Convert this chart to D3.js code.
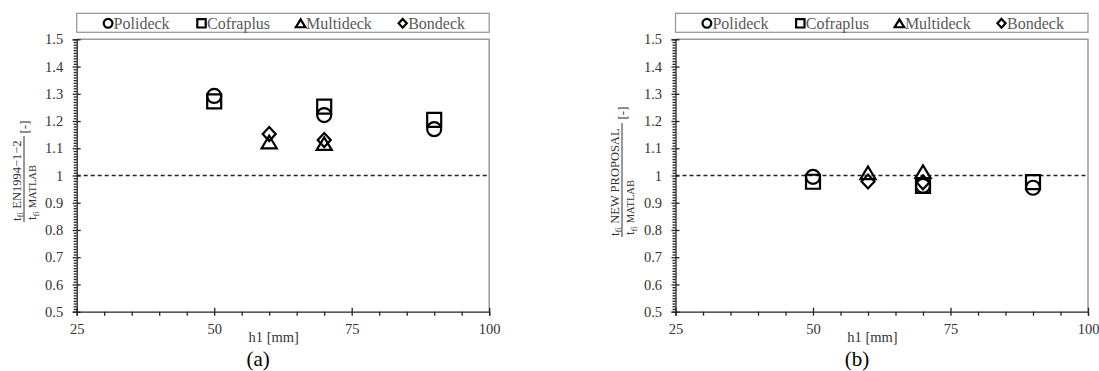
<!DOCTYPE html>
<meta charset="utf-8">
<style>

body {
  margin: 0;
  background: #fff;
}

.tick text {
  font: 14.5px "Liberation Serif", "Times New Roman", serif;
  fill: #333;
}

.legend text {
  font: 16px "Liberation Serif", "Times New Roman", serif;
  fill: #595959;
}

.ytitle {
  font-family: "Liberation Serif", "Times New Roman", serif;
  fill: #333;
}

</style>
<svg width="1099" height="371"></svg>
<script src="https://d3js.org/d3.v7.min.js"></script>
<script>

// series and values
var series = ["Polideck", "Cofraplus", "Multideck", "Bondeck"];
var h1Polideck = [50, 70, 90];
var h1Cofraplus = [50, 70, 90];
var h1Multideck = [60, 70];
var h1Bondeck = [60, 70];

// (a) EN1994-1-2 / MATLAB
var ratioA_Polideck = [1.292, 1.222, 1.170];
var ratioA_Cofraplus = [1.272, 1.253, 1.204];
var ratioA_Multideck = [1.123, 1.117];
var ratioA_Bondeck = [1.152, 1.130];

// (b) new proposal / MATLAB
var ratioB_Polideck = [0.995, 0.962, 0.955];
var ratioB_Cofraplus = [0.977, 0.962, 0.976];
var ratioB_Multideck = [1.010, 1.014];
var ratioB_Bondeck = [0.978, 0.975];

var xTicks = [25, 50, 75, 100];
var xMinorTicks = [30, 35, 40, 45, 55, 60, 65, 70, 80, 85, 90, 95];
var yTicks = [0.5, 0.6, 0.7, 0.8, 0.9, 1, 1.1, 1.2, 1.3, 1.4, 1.5];
var yMinorTicks = d3.range(50, 151).filter(function(v) { return v % 10 !== 0; })
    .map(function(v) { return v / 100; });

var svg = d3.select("svg"),
    plotW = 412.5,
    plotTop = 39.3,
    plotBottom = 311.7;

var x = d3.scaleLinear().domain([25, 100]).range([0, plotW]);
var y = d3.scaleLinear().domain([0.5, 1.5]).range([plotBottom, plotTop]);

// marker shapes, centred on their box like the spreadsheet markers
function marker(kind, s) {
  var p = d3.path();
  if (kind === "Polideck") {
    p.arc(0, 0, s, 0, 2 * Math.PI);
  } else if (kind === "Cofraplus") {
    p.rect(-s, -s, 2 * s, 2 * s);
  } else if (kind === "Multideck") {
    p.moveTo(0, -s * 0.9); p.lineTo(s * 1.08, s * 0.9); p.lineTo(-s * 1.08, s * 0.9); p.closePath();
  } else {
    p.moveTo(0, -s); p.lineTo(s * 0.93, 0); p.lineTo(0, s); p.lineTo(-s * 0.93, 0); p.closePath();
  }
  return p.toString();
}

var panels = [
  {left: 76.7, caption: "(a)", top: "EN1994\u22121\u22122", lineX: 24, lineY: 222, lineLen: 86, unitAt: 95,
   values: [
     {name: "Polideck", h1: h1Polideck, v: ratioA_Polideck},
     {name: "Cofraplus", h1: h1Cofraplus, v: ratioA_Cofraplus},
     {name: "Multideck", h1: h1Multideck, v: ratioA_Multideck},
     {name: "Bondeck", h1: h1Bondeck, v: ratioA_Bondeck}]},
  {left: 675.5, caption: "(b)", top: "NEW PROPOSAL", lineX: 622, lineY: 237, lineLen: 114, unitAt: 124,
   values: [
     {name: "Polideck", h1: h1Polideck, v: ratioB_Polideck},
     {name: "Cofraplus", h1: h1Cofraplus, v: ratioB_Cofraplus},
     {name: "Multideck", h1: h1Multideck, v: ratioB_Multideck},
     {name: "Bondeck", h1: h1Bondeck, v: ratioB_Bondeck}]}
];

var legendPos = [31.4, 124.8, 223.9, 326];

panels.forEach(function(pn) {
  var g = svg.append("g").attr("transform", "translate(" + pn.left + ",0)");

  // legend box
  var lg = g.append("g").attr("class", "legend");
  lg.append("rect")
      .attr("x", 0).attr("y", 13.3)
      .attr("width", plotW).attr("height", 19)
      .attr("fill", "#fff").attr("stroke", "#9a9a9a").attr("stroke-width", 1.3);
  series.forEach(function(s, i) {
    lg.append("path")
        .attr("d", marker(s, s === "Cofraplus" ? 4.2 : 4.4))
        .attr("transform", "translate(" + legendPos[i] + ",23.3)")
        .attr("fill", "none").attr("stroke", "#000").attr("stroke-width", 2.2);
    lg.append("text")
        .attr("x", legendPos[i] + 5.5).attr("y", 28.8)
        .text(s);
  });

  // frame: grey top and right
  g.append("path")
      .attr("d", "M0," + plotTop + "H" + plotW + "V" + plotBottom)
      .attr("fill", "none").attr("stroke", "#9a9a9a").attr("stroke-width", 1.5);

  // y axis
  var yAxis = g.append("g")
      .call(d3.axisLeft(y).tickValues(yTicks).tickSize(4).tickPadding(9.5)
        .tickFormat(d3.format("~g")));
  yAxis.selectAll(".tick line").clone().attr("x2", 4);
  g.append("g")
      .call(d3.axisLeft(y).tickValues(yMinorTicks).tickSize(3).tickFormat(""))
      .call(function(a) { a.select(".domain").remove(); });

  // x axis
  var xAxis = g.append("g")
      .attr("transform", "translate(0," + plotBottom + ")")
      .call(d3.axisBottom(x).tickValues(xTicks).tickSize(4).tickPadding(8));
  xAxis.selectAll(".tick line").clone().attr("y2", -4);
  g.append("g")
      .attr("transform", "translate(0," + plotBottom + ")")
      .call(d3.axisBottom(x).tickValues(xMinorTicks).tickSize(4).tickFormat(""))
      .call(function(a) { a.select(".domain").remove(); });

  svg.selectAll(".domain, .tick line").attr("stroke", "#222").attr("stroke-width", 1.3);

  // reference line at 1
  g.append("line")
      .attr("x1", 0).attr("x2", plotW)
      .attr("y1", y(1)).attr("y2", y(1))
      .attr("stroke", "#222").attr("stroke-width", 1.4)
      .attr("stroke-dasharray", "4,3");

  // markers
  pn.values.forEach(function(sr) {
    g.selectAll(null)
        .data(sr.h1.map(function(h, i) { return [h, sr.v[i]]; }))
        .enter().append("path")
        .attr("d", marker(sr.name, 7))
        .attr("transform", function(d) { return "translate(" + x(d[0]) + "," + y(d[1]) + ")"; })
        .attr("fill", "none").attr("stroke", "#000").attr("stroke-width", 2.2);
  });

  // x label and caption
  g.append("text")
      .attr("x", 197).attr("y", 342)
      .attr("text-anchor", "middle")
      .style("font", "14.5px 'Liberation Serif', 'Times New Roman', serif").style("fill", "#333")
      .text("h1 [mm]");
  g.append("text")
      .attr("x", 181.4).attr("y", 366)
      .attr("text-anchor", "middle")
      .style("font", "21px 'Liberation Serif', 'Times New Roman', serif").style("fill", "#000")
      .text(pn.caption);

  // y title: fraction written sideways
  var t = svg.append("g")
      .attr("class", "ytitle")
      .attr("transform", "translate(" + pn.lineX + "," + pn.lineY + ") rotate(-90)");
  t.append("line")
      .attr("x1", 0).attr("x2", pn.lineLen)
      .attr("stroke", "#333").attr("stroke-width", 1);
  var num = t.append("text").attr("x", 1).attr("y", -3.5);
  num.append("tspan").style("font-size", "13px").text("t");
  num.append("tspan").style("font-size", "9px").attr("dy", 2.5).text("fi");
  num.append("tspan").style("font-size", "12.5px").attr("dy", -2.5).text(" " + pn.top);
  var den = t.append("text").attr("x", 2).attr("y", 12);
  den.append("tspan").style("font-size", "13px").text("t");
  den.append("tspan").style("font-size", "9px").attr("dy", 2.5).text("fi");
  den.append("tspan").style("font-size", "10.5px").attr("dy", -2.5).text(" MATLAB");
  t.append("text")
      .attr("x", pn.unitAt).attr("y", 4.5)
      .attr("text-anchor", "middle")
      .style("font-size", "13px")
      .text("[-]");
});

</script>
